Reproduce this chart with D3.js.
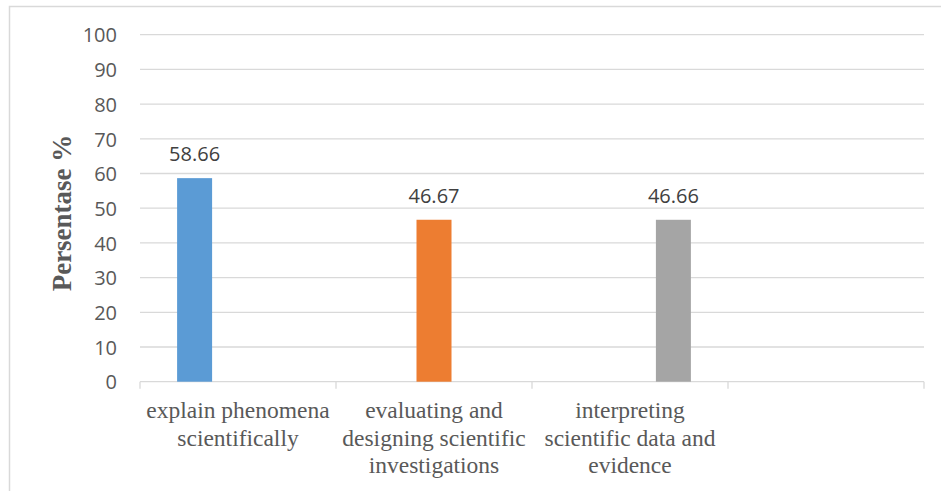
<!DOCTYPE html>
<html>
<head>
<meta charset="utf-8">
<script src="https://cdn.jsdelivr.net/npm/d3@7/dist/d3.min.js"></script>
<style>
  html, body { margin: 0; padding: 0; background: #fff; }
  svg { display: block; }
</style>
</head>
<body>
<svg id="chart" width="941" height="491"></svg>
<script>
// ---- data ----
const categories = ["explain phenomena scientifically",
                    "evaluating and designing scientific investigations",
                    "interpreting scientific data and evidence",
                    ""];
const categoryLines = [["explain phenomena", "scientifically"],
                       ["evaluating and", "designing scientific", "investigations"],
                       ["interpreting", "scientific data and", "evidence"],
                       []];
const series = ["explain phenomena scientifically",
                "evaluating and designing scientific investigations",
                "interpreting scientific data and evidence"];
const values = [58.66, 46.67, 46.66];
const valueLabels = ["58.66", "46.67", "46.66"];
const seriesColors = ["#5B9BD5", "#ED7D31", "#A5A5A5"];
const yTicks = [0, 10, 20, 30, 40, 50, 60, 70, 80, 90, 100];
const yTitle = "Persentase %";

// ---- layout ----
const svg = d3.select("#chart");
const plotLeft = 140, plotRight = 924, plotTop = 34.7, plotBottom = 381.7;

// outer border
svg.append("rect")
  .attr("x", 9.5).attr("y", 6.5)
  .attr("width", 940).attr("height", 490)
  .attr("fill", "none").attr("stroke", "#d9d9d9").attr("stroke-width", 1.5);

const x0 = d3.scaleBand().domain(categories.map((c, i) => i)).range([plotLeft, plotRight]).padding(0);
const x1 = d3.scaleBand().domain(series.map((s, i) => i)).range([0, x0.bandwidth()])
  .paddingInner(0.1935).paddingOuter(0.855);
const y = d3.scaleLinear().domain([0, 100]).range([plotBottom, plotTop]);

// gridlines
svg.append("g").selectAll("line").data(yTicks.filter(t => t > 0)).join("line")
  .attr("x1", plotLeft).attr("x2", plotRight)
  .attr("y1", d => y(d)).attr("y2", d => y(d))
  .attr("stroke", "#d9d9d9").attr("stroke-width", 1.3);

// y axis labels
const yAxis = d3.axisLeft(y).tickValues(yTicks).tickSize(0).tickPadding(0);
const yg = svg.append("g").attr("transform", `translate(117,0)`).call(yAxis);
yg.select(".domain").remove();
yg.selectAll("text")
  .attr("font-family", "'Open Sans', sans-serif")
  .attr("font-size", 20)
  .attr("fill", "#595959")
  .attr("dy", "0.36em");

// x axis
const xAxisG = svg.append("g");
xAxisG.append("line")
  .attr("x1", plotLeft).attr("x2", plotRight)
  .attr("y1", plotBottom).attr("y2", plotBottom)
  .attr("stroke", "#d9d9d9").attr("stroke-width", 1.3);
const tickXs = categories.map((c, i) => x0(i)).concat([x0(categories.length - 1) + x0.bandwidth()]);
xAxisG.selectAll("line.tick").data(tickXs).join("line")
  .attr("class", "tick")
  .attr("x1", d => d).attr("x2", d => d)
  .attr("y1", plotBottom).attr("y2", plotBottom + 7)
  .attr("stroke", "#d9d9d9").attr("stroke-width", 1.3);

// category labels
const catG = svg.append("g");
categoryLines.forEach((lines, i) => {
  const t = catG.append("text")
    .attr("x", x0(i) + x0.bandwidth() / 2)
    .attr("y", 418)
    .attr("text-anchor", "middle")
    .attr("font-family", "'Liberation Serif', 'Times New Roman', serif")
    .attr("font-size", 23.5)
    .attr("fill", "#595959");
  lines.forEach((ln, j) => {
    t.append("tspan")
      .attr("x", x0(i) + x0.bandwidth() / 2)
      .attr("y", 418 + j * 27.5)
      .text(ln);
  });
});

// bars
svg.append("g").selectAll("rect").data(values).join("rect")
  .attr("x", (d, i) => x0(i) + x1(i))
  .attr("y", d => y(d))
  .attr("width", x1.bandwidth())
  .attr("height", d => y(0) - y(d))
  .attr("fill", (d, i) => seriesColors[i]);

// data labels
svg.append("g").selectAll("text").data(values).join("text")
  .attr("x", (d, i) => x0(i) + x1(i) + x1.bandwidth() / 2)
  .attr("y", d => y(d) - 17)
  .attr("text-anchor", "middle")
  .attr("font-family", "'Open Sans', sans-serif")
  .attr("font-size", 20)
  .attr("fill", "#404040")
  .text((d, i) => valueLabels[i]);

// y title
svg.append("text")
  .attr("transform", `translate(71,213) rotate(-90)`)
  .attr("text-anchor", "middle")
  .attr("font-family", "'Liberation Serif', 'Times New Roman', serif")
  .attr("font-weight", "bold")
  .attr("font-size", 27)
  .attr("fill", "#595959")
  .text(yTitle);
</script>
</body>
</html>
